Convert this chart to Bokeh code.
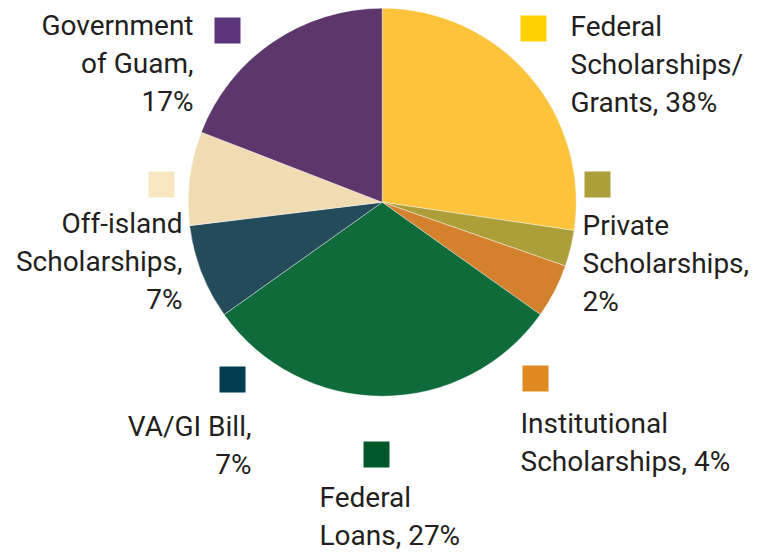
import math
from bokeh.plotting import figure
from bokeh.models import Range1d, ColumnDataSource
from bokeh.core.properties import value
from bokeh.embed import file_html
from bokeh.resources import INLINE

# ---- data ----
categories = ["Federal Scholarships/Grants", "Private Scholarships", "Institutional Scholarships",
              "Federal Loans", "VA/GI Bill", "Off-island Scholarships", "Government of Guam"]
label_pct = [38, 2, 4, 27, 7, 7, 17]
# wedge sizes as drawn in the picture (percent of circle)
wedge_share = [27.3, 3.0, 4.5, 30.3, 7.9, 7.8, 19.1]
label_lines = [
    ["Federal", "Scholarships/", "Grants, {}%"],
    ["Private", "Scholarships,", "{}%"],
    ["Institutional", "Scholarships, {}%"],
    ["Federal", "Loans, {}%"],
    ["VA/GI Bill,", "{}%"],
    ["Off-island", "Scholarships,", "{}%"],
    ["Government", "of Guam,", "{}%"],
]
wedge_colors = ["#FDC33B", "#AC9F3A", "#D4812E", "#0F6B3A", "#244B5A", "#F0DCB3", "#5D366B"]
swatch_colors = ["#FFD200", "#ADA03A", "#E08A1F", "#00582A", "#003D4F", "#F8E6C0", "#5C3479"]

# ---- layout (screen pixel positions) ----
W, H = 766, 552
CX, CY, R = 381.7, 201.7, 194
LINE_H = 38
FONT = "Roboto"
FS = "28px"
TEXT_COLOR = "#231F20"
BASE_SHIFT = 10  # renderer draws alphabetic baseline lower than requested
# (text x, first baseline y, align), (swatch left x, swatch top y)
text_pos = [(570, 36, "left"), (582, 235, "left"), (520, 433, "left"), (319, 507, "left"),
            (251, 436, "right"), (182, 233, "right"), (193, 35, "right")]
swatch_pos = [(520, 15), (584, 171), (522, 365), (363, 441), (219, 366), (148, 171), (214, 17)]
SW = 26


def sy(y):
    return H - y


p = figure(width=W, height=H, output_backend="svg", toolbar_location=None,
           x_range=Range1d(0, W), y_range=Range1d(0, H), min_border=0)
p.axis.visible = False
p.grid.visible = False
p.outline_line_color = None
p.background_fill_color = "white"
p.border_fill_color = "white"

total = sum(wedge_share)
starts, ends = [], []
cum = 0.0
for v in wedge_share:
    starts.append(math.pi / 2 - 2 * math.pi * cum / total)
    cum += v
    ends.append(math.pi / 2 - 2 * math.pi * cum / total)

src = ColumnDataSource(dict(x=[CX] * len(categories), y=[sy(CY)] * len(categories),
                            start=starts, end=ends, color=wedge_colors, name=categories))
p.wedge(x="x", y="y", radius=R, start_angle="start", end_angle="end", direction="clock",
        fill_color="color", line_color="white", line_width=0.4, source=src)

# swatches
sx = [x + SW / 2 for x, y in swatch_pos]
syy = [sy(y + SW / 2) for x, y in swatch_pos]
p.rect(x=sx, y=syy, width=SW, height=SW, fill_color=swatch_colors, line_color=None)

# labels
for lines, pct, (tx, ty, align) in zip(label_lines, label_pct, text_pos):
    for i, ln in enumerate(lines):
        p.text(x=[tx], y=[sy(ty - BASE_SHIFT + i * LINE_H)], text=[ln.format(pct)],
               text_font=value(FONT), text_font_size=FS, text_color=TEXT_COLOR,
               text_align=align, text_baseline="alphabetic")

open("out.html", "w").write(file_html(p, INLINE))
